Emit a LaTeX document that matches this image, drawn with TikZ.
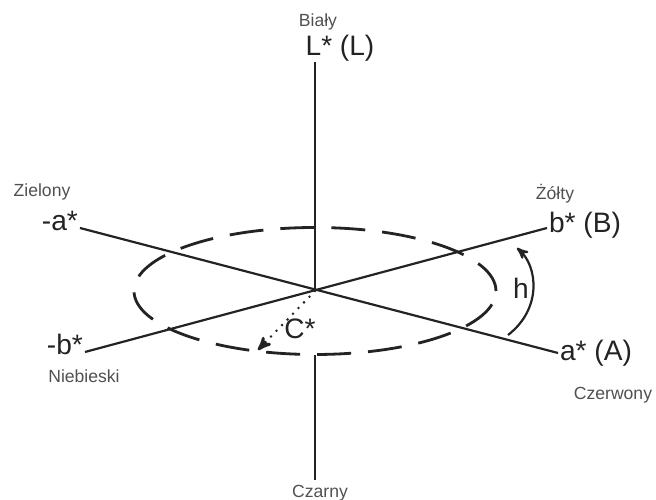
\documentclass[tikz,border=0pt]{standalone}
\usepackage{fontspec}
\setmainfont{Liberation Sans}
\usepackage{tikz}
\usetikzlibrary{arrows, calc}
\definecolor{inkcolor}{RGB}{35,35,35}
\definecolor{namecolor}{RGB}{80,80,80}
\tikzset{
  axis/.style={draw=inkcolor, line width=1.25pt},
  ring/.style={draw=inkcolor, line width=1.6pt, dash pattern=on 0.68cm off 0.34cm},
  chroma/.style={draw=inkcolor, line width=1.6pt, line cap=round,
                 dash pattern=on 0pt off 4.5pt, -stealth'},
  hue/.style={draw=inkcolor, line width=1.25pt, -stealth'},
  biglabel/.style={font=\fontsize{16}{18}\selectfont, text=inkcolor, inner sep=1pt},
  namelabel/.style={font=\fontsize{10}{12}\selectfont, text=namecolor, inner sep=1pt},
}
\begin{document}
\begin{tikzpicture}
  \useasboundingbox (-6.3,-4.18) rectangle (6.82,5.82);

  % Axis ends
  \coordinate (origin) at (0,0);
  \coordinate (white) at (0,4.58);
  \coordinate (black) at (0,-3.78);
  \coordinate (ringbottom) at (0,-1.28);
  \coordinate (aneg) at (-4.7,1.26);
  \coordinate (apos) at (4.86,-1.24);
  \coordinate (bneg) at (-4.6,-1.22);
  \coordinate (bpos) at (4.64,1.26);

  % Axes
  \draw[axis] (white) -- (origin);
  \draw[axis] (ringbottom) -- (black);
  \draw[axis] (aneg) -- (apos);
  \draw[axis] (bneg) -- (bpos);

  % Chroma ring
  \draw[ring] (origin) ellipse (3.62cm and 1.27cm);

  % Chroma and hue
  \coordinate (chromaend) at (-1.14,-1.18);
  \draw[chroma] (origin) -- (chromaend);
  \coordinate (huestart) at (3.86,-0.88);
  \coordinate (hueend) at (4.04,0.86);
  \draw[hue] (huestart) .. controls (4.55,-0.35) and (4.45,0.5) .. (hueend);

  % Axis labels
  \node[biglabel] (lbl) at (0.5,4.85) {L* (L)};
  \node[namelabel] (bialy) at (0.06,5.38) {Biały};
  \node[biglabel, anchor=base east] (lblaneg) at ($(aneg)+(0,-0.05)$) {-a*};
  \node[namelabel] (zielony) at (-5.46,1.98) {Zielony};
  \node[biglabel, anchor=base west] (lblbpos) at ($(bpos)+(0,-0.1)$) {b* (B)};
  \node[namelabel] (zolty) at (4.8,1.94) {Żółty};
  \node[biglabel, anchor=base east] (lblbneg) at ($(bneg)+(0,-0.06)$) {-b*};
  \node[namelabel] (niebieski) at (-4.62,-1.7) {Niebieski};
  \node[biglabel, anchor=west] (lblapos) at (apos) {a* (A)};
  \node[namelabel] (czerwony) at (5.96,-2.08) {Czerwony};
  \node[namelabel] (czarny) at (0.1,-4.04) {Czarny};
  \node[biglabel] (lblh) at (4.12,0.06) {h};
  \node[biglabel] (lblc) at (-0.3,-0.76) {C*};
\end{tikzpicture}
\end{document}
